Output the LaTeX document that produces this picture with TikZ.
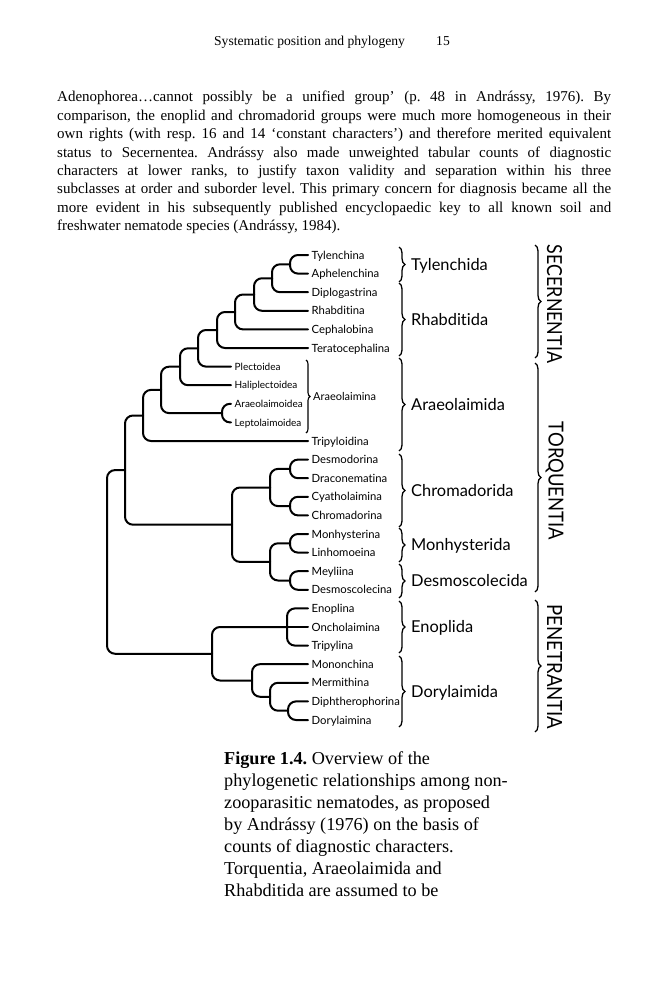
\documentclass[tikz,border=0pt]{standalone}
\usepackage{fontspec}
\setmainfont{Liberation Serif}
\newfontfamily\gill[Ligatures={NoCommon,NoRare}]{Lato}
\usetikzlibrary{decorations.pathreplacing}
\frenchspacing
\begin{document}
\begin{tikzpicture}[x=1pt,y=-1pt,
  branch/.style={line width=2pt, rounded corners=8pt, line cap=round},
  leaf/.style={anchor=west, inner xsep=3.5pt, inner ysep=0pt, font=\gill\fontsize{11.3}{12}\selectfont, text height=8.2pt, text depth=0pt},
  sleaf/.style={leaf, font=\gill\fontsize{10}{10}\selectfont, text height=7.2pt},
  ordbrace/.style={decorate, decoration={brace, amplitude=6pt}, line width=1.3pt},
  subbrace/.style={decorate, decoration={brace, amplitude=4pt}, line width=1.1pt},
  ordlab/.style={anchor=west, inner sep=0pt, font=\gill\fontsize{16.4}{16}\selectfont, text height=11.8pt, text depth=0pt},
  sublab/.style={anchor=west, inner sep=0pt, font=\gill\fontsize{11}{11}\selectfont, text height=8pt, text depth=0pt},
  classlab/.style={rotate=-90, inner sep=0pt, font=\gill},
  bodytext/.style={anchor=base west, inner sep=0pt, font=\fontsize{15}{18}\selectfont},
  captext/.style={anchor=base west, inner sep=0pt, font=\fontsize{18.2}{22}\selectfont}
]
\useasboundingbox (0,0) rectangle (666,1000);
\fill[white] (0,0) rectangle (666,1000);

% header
\node[anchor=base, inner sep=0pt, font=\fontsize{13.6}{16}\selectfont] (header) at (332,46) {Systematic position and phylogeny\hspace{2.3em}15};

% paragraph
\foreach \t [count=\i from 0] in {
  {Adenophorea…cannot possibly be a unified group’ (p. 48 in Andrássy, 1976). By},
  {comparison, the enoplid and chromadorid groups were much more homogeneous in their},
  {own rights (with resp. 16 and 14 ‘constant characters’) and therefore merited equivalent},
  {status to Secernentea. Andrássy also made unweighted tabular counts of diagnostic},
  {characters at lower ranks, to justify taxon validity and separation within his three},
  {subclasses at order and suborder level. This primary concern for diagnosis became all the},
  {more evident in his subsequently published encyclopaedic key to all known soil and}}
  \node[bodytext] (para\i) at (57,{102+18.4*\i}) {\makebox[554pt][s]{\t}};
\node[bodytext] (para7) at (57,{102+18.4*7}) {freshwater nematode species (Andrássy, 1984).};

% leaves
\node[leaf] (tyl) at (308,255) {Tylenchina};
\node[leaf] (aph) at (308,273.6) {Aphelenchina};
\node[leaf] (dipl) at (308,292.2) {Diplogastrina};
\node[leaf] (rhab) at (308,310.8) {Rhabditina};
\node[leaf] (ceph) at (308,329.4) {Cephalobina};
\node[leaf] (terat) at (308,348) {Teratocephalina};
\node[sleaf] (plect) at (231,366.6) {Plectoidea};
\node[sleaf] (hali) at (231,385.2) {Haliplectoidea};
\node[sleaf] (araeo) at (231,403.8) {Araeolaimoidea};
\node[sleaf] (lepto) at (231,422.4) {Leptolaimoidea};
\node[leaf] (tripyl) at (308,441) {Tripyloidina};
\node[leaf] (desmod) at (308,459.6) {Desmodorina};
\node[leaf] (dracon) at (308,478.2) {Draconematina};
\node[leaf] (cyath) at (308,496.8) {Cyatholaimina};
\node[leaf] (chrom) at (308,515.4) {Chromadorina};
\node[leaf] (monh) at (308,534) {Monhysterina};
\node[leaf] (linh) at (308,552.6) {Linhomoeina};
\node[leaf] (meyl) at (308,571.2) {Meyliina};
\node[leaf] (desmosc) at (308,589.8) {Desmoscolecina};
\node[leaf] (enopl) at (308,608.4) {Enoplina};
\node[leaf] (onch) at (308,627) {Oncholaimina};
\node[leaf] (tripy) at (308,645.6) {Tripylina};
\node[leaf] (monon) at (308,664.2) {Mononchina};
\node[leaf] (merm) at (308,682.8) {Mermithina};
\node[leaf] (diph) at (308,701.4) {Diphtherophorina};
\node[leaf] (dory) at (308,720) {Dorylaimina};

% internal nodes
\coordinate (n1) at (290,264.3);
\coordinate (n2) at (272,278.25);
\coordinate (n3) at (254,294.5);
\coordinate (n4) at (235,312);
\coordinate (n5) at (217,330);
\coordinate (n6) at (198,348.3);
\coordinate (n7) at (180,366.7);
\coordinate (nA) at (222,413.1);
\coordinate (n8) at (161,389.9);
\coordinate (n9) at (143,415.5);
\coordinate (c1) at (290,468.9);
\coordinate (c2) at (290,506.1);
\coordinate (c3) at (270,487.5);
\coordinate (c4) at (290,543.3);
\coordinate (c5) at (290,580.5);
\coordinate (c6) at (270,561.9);
\coordinate (c7) at (232,524.7);
\coordinate (n10) at (125,470.1);
\coordinate (e1) at (287,627);
\coordinate (d1) at (288,710.7);
\coordinate (d2) at (270,696.75);
\coordinate (d3) at (252,680.5);
\coordinate (p1) at (212,653.75);
\coordinate (root) at (107,561.9);

% branches
\draw[branch] (n1) |- (tyl.west);
\draw[branch] (n1) |- (aph.west);
\draw[branch] (n2) |- (n1);
\draw[branch] (n2) |- (dipl.west);
\draw[branch] (n3) |- (n2);
\draw[branch] (n3) |- (rhab.west);
\draw[branch] (n4) |- (n3);
\draw[branch] (n4) |- (ceph.west);
\draw[branch] (n5) |- (n4);
\draw[branch] (n5) |- (terat.west);
\draw[branch] (n6) |- (n5);
\draw[branch] (n6) |- (plect.west);
\draw[branch] (n7) |- (n6);
\draw[branch] (n7) |- (hali.west);
\draw[branch] (nA) |- (araeo.west);
\draw[branch] (nA) |- (lepto.west);
\draw[branch] (n8) |- (n7);
\draw[branch] (n8) |- (nA);
\draw[branch] (n9) |- (n8);
\draw[branch] (n9) |- (tripyl.west);
\draw[branch] (c1) |- (desmod.west);
\draw[branch] (c1) |- (dracon.west);
\draw[branch] (c2) |- (cyath.west);
\draw[branch] (c2) |- (chrom.west);
\draw[branch] (c3) |- (c1);
\draw[branch] (c3) |- (c2);
\draw[branch] (c4) |- (monh.west);
\draw[branch] (c4) |- (linh.west);
\draw[branch] (c5) |- (meyl.west);
\draw[branch] (c5) |- (desmosc.west);
\draw[branch] (c6) |- (c4);
\draw[branch] (c6) |- (c5);
\draw[branch] (c7) |- (c3);
\draw[branch] (c7) |- (c6);
\draw[branch] (n10) |- (n9);
\draw[branch] (n10) |- (c7);
\draw[branch] (e1) |- (enopl.west);
\draw[branch] (e1) -- (onch.west);
\draw[branch] (e1) |- (tripy.west);
\draw[branch] (d1) |- (diph.west);
\draw[branch] (d1) |- (dory.west);
\draw[branch] (d2) |- (merm.west);
\draw[branch] (d2) |- (d1);
\draw[branch] (d3) |- (monon.west);
\draw[branch] (d3) |- (d2);
\draw[branch] (p1) |- (e1);
\draw[branch] (p1) |- (d3);
\draw[branch] (root) |- (n10);
\draw[branch] (root) |- (p1);

% Araeolaimina brace
\draw[subbrace] (306,360) -- (306,433);
\node[sublab] (araeolaimina) at (313,396.5) {Araeolaimina};

% order braces
\draw[ordbrace] (399,247) -- (399,282);
\node[ordlab] (tylenchida) at (411,264.5) {Tylenchida};
\draw[ordbrace] (399,283) -- (399,356);
\node[ordlab] (rhabditida) at (411,319.5) {Rhabditida};
\draw[ordbrace] (399,358) -- (399,451);
\node[ordlab] (araeolaimida) at (411,404.5) {Araeolaimida};
\draw[ordbrace] (399,454) -- (399,527);
\node[ordlab] (chromadorida) at (411,490.5) {Chromadorida};
\draw[ordbrace] (399,528) -- (399,562);
\node[ordlab] (monhysterida) at (411,545) {Monhysterida};
\draw[ordbrace] (399,564) -- (399,598);
\node[ordlab] (desmoscolecida) at (411,581) {Desmoscolecida};
\draw[ordbrace] (399,601) -- (399,653);
\node[ordlab] (enoplida) at (411,627) {Enoplida};
\draw[ordbrace] (399,656) -- (399,727);
\node[ordlab] (dorylaimida) at (411,691.5) {Dorylaimida};

% subclass braces
\draw[ordbrace] (535,245) -- (535,358);
\node[classlab] (secernentia) at (554.5,304) {\resizebox{118pt}{15pt}{SECERNENTIA}};
\draw[ordbrace] (535,363) -- (535,592);
\node[classlab] (torquentia) at (554.5,481) {\resizebox{118pt}{15pt}{TORQUENTIA}};
\draw[ordbrace] (535,600) -- (535,732);
\node[classlab] (penetrantia) at (554.5,667) {\resizebox{125pt}{15pt}{PENETRANTIA}};

% caption
\node[captext] (cap0) at (224,{764+22*0}) {\textbf{Figure 1.4.} Overview of the};
\node[captext] (cap1) at (224,{764+22*1}) {phylogenetic relationships among non-};
\node[captext] (cap2) at (224,{764+22*2}) {zooparasitic nematodes, as proposed};
\node[captext] (cap3) at (224,{764+22*3}) {by Andrássy (1976) on the basis of};
\node[captext] (cap4) at (224,{764+22*4}) {counts of diagnostic characters.};
\node[captext] (cap5) at (224,{764+22*5}) {Torquentia, Araeolaimida and};
\node[captext] (cap6) at (224,{764+22*6}) {Rhabditida are assumed to be};
\end{tikzpicture}
\end{document}
